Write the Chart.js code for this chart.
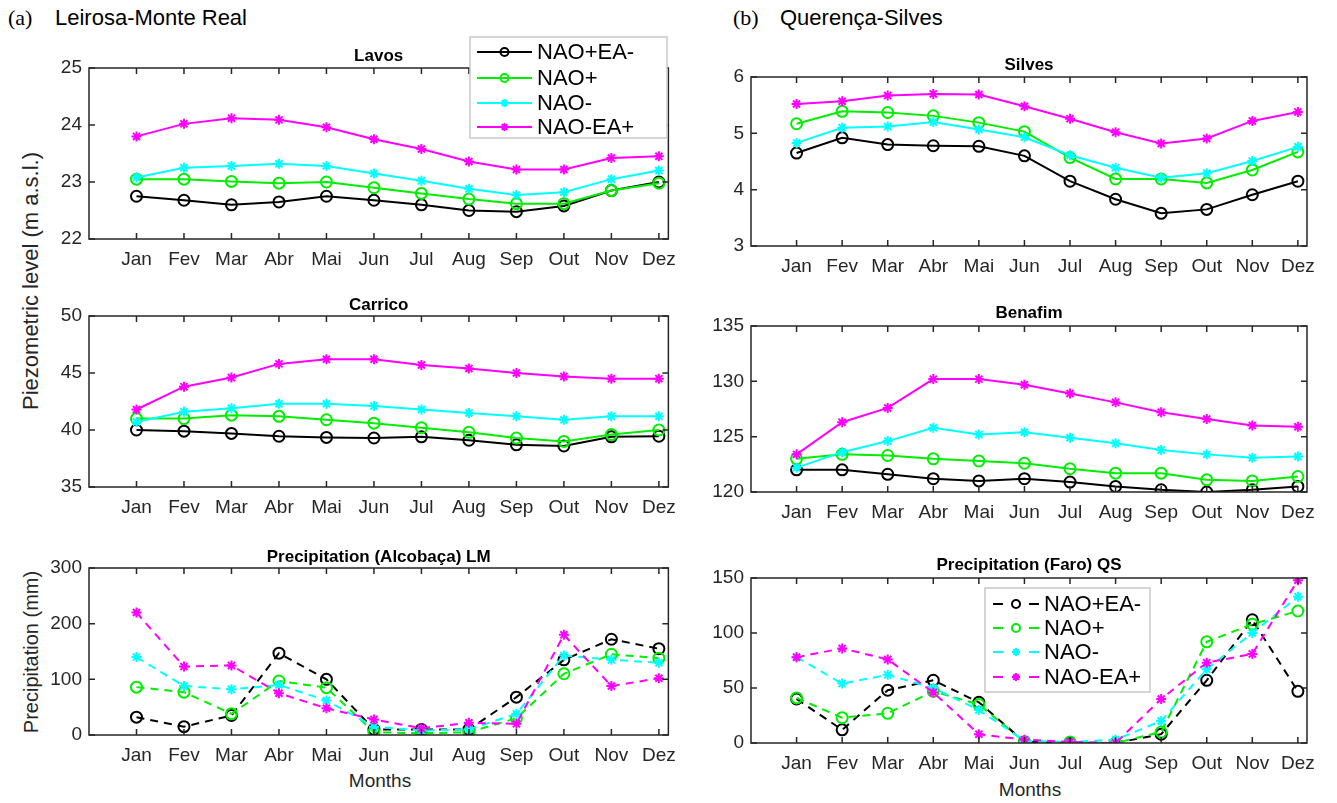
<!DOCTYPE html>
<html>
<head>
<meta charset="utf-8">
<script src="https://cdn.jsdelivr.net/npm/chart.js@4.4.1/dist/chart.umd.min.js"></script>
<style>
  body { margin: 0; background: #fff; width: 1337px; height: 803px; position: relative; overflow: hidden;
         font-family: "Liberation Sans", Arial, sans-serif; color: #262626; }
  .panel { position: absolute; }
  .lbl { position: absolute; white-space: nowrap; }
  .ser { font-family: "Liberation Serif", "Times New Roman", serif; }
  .rot { transform: translate(-50%, -50%) rotate(-90deg); }
  .ctr { transform: translate(-50%, -50%); }
</style>
</head>
<body>

<div class="lbl ser" style="left:8px;top:5px;font-size:22px;color:#000">(a)</div>
<div class="lbl" style="left:55px;top:5px;font-size:22px;color:#000">Leirosa-Monte Real</div>
<div class="lbl ser" style="left:733px;top:5px;font-size:22px;color:#000">(b)</div>
<div class="lbl" style="left:780px;top:5px;font-size:22px;color:#000">Querença-Silves</div>

<div class="lbl rot" style="left:31px;top:281px;font-size:22px">Piezometric level (m a.s.l.)</div>
<div class="lbl rot" style="left:31px;top:652px;font-size:20px">Precipitation (mm)</div>
<div class="lbl ctr" style="left:380px;top:781px;font-size:19px">Months</div>
<div class="lbl ctr" style="left:1030px;top:790px;font-size:19px">Months</div>

<div class="panel" id="wrap-lavos"><canvas id="lavos"></canvas></div>
<div class="panel" id="wrap-carrico"><canvas id="carrico"></canvas></div>
<div class="panel" id="wrap-precLM"><canvas id="precLM"></canvas></div>
<div class="panel" id="wrap-silves"><canvas id="silves"></canvas></div>
<div class="panel" id="wrap-benafim"><canvas id="benafim"></canvas></div>
<div class="panel" id="wrap-precQS"><canvas id="precQS"></canvas></div>

<script>
const months = ["Jan", "Fev", "Mar", "Abr", "Mai", "Jun", "Jul", "Aug", "Sep", "Out", "Nov", "Dez"];
const seriesNames = ["NAO+EA-", "NAO+", "NAO-", "NAO-EA+"];
const seriesColors = ["#000000", "#00ee00", "#00ffff", "#ff00ff"];
const seriesMarkers = ["circle", "circle", "star", "star"];

// Lavos (m a.s.l.)
const lavosNaoPosEaNeg = [22.75, 22.68, 22.60, 22.65, 22.75, 22.68, 22.60, 22.50, 22.48, 22.58, 22.85, 23.00];
const lavosNaoPos      = [23.05, 23.05, 23.01, 22.98, 23.00, 22.90, 22.80, 22.70, 22.62, 22.62, 22.85, 22.98];
const lavosNaoNeg      = [23.08, 23.25, 23.28, 23.32, 23.28, 23.15, 23.02, 22.88, 22.77, 22.82, 23.05, 23.20];
const lavosNaoNegEaPos = [23.80, 24.02, 24.12, 24.09, 23.96, 23.75, 23.58, 23.36, 23.22, 23.22, 23.42, 23.45];
const lavosTicks = [22, 23, 24, 25];

// Carrico (m a.s.l.)
const carricoNaoPosEaNeg = [40.0, 39.9, 39.7, 39.45, 39.35, 39.3, 39.4, 39.1, 38.7, 38.6, 39.4, 39.45];
const carricoNaoPos      = [41.0, 41.0, 41.3, 41.2, 40.9, 40.6, 40.2, 39.8, 39.3, 39.0, 39.6, 40.0];
const carricoNaoNeg      = [40.7, 41.6, 41.9, 42.3, 42.3, 42.1, 41.8, 41.5, 41.2, 40.9, 41.2, 41.2];
const carricoNaoNegEaPos = [41.8, 43.8, 44.6, 45.8, 46.2, 46.2, 45.7, 45.4, 45.0, 44.7, 44.5, 44.5];
const carricoTicks = [35, 40, 45, 50];

// Precipitation Alcobaça (mm)
const precLMNaoPosEaNeg = [32, 15, 35, 147, 100, 10, 10, 10, 68, 135, 172, 155];
const precLMNaoPos      = [86, 77, 38, 97, 85, 5, 3, 5, 30, 110, 145, 138];
const precLMNaoNeg      = [140, 88, 82, 90, 62, 15, 8, 10, 38, 143, 135, 130];
const precLMNaoNegEaPos = [220, 123, 125, 75, 48, 28, 12, 22, 20, 180, 88, 102];
const precLMTicks = [0, 100, 200, 300];

// Silves (m a.s.l.)
const silvesNaoPosEaNeg = [4.65, 4.92, 4.80, 4.78, 4.77, 4.60, 4.15, 3.83, 3.58, 3.65, 3.91, 4.15];
const silvesNaoPos      = [5.17, 5.39, 5.37, 5.31, 5.19, 5.03, 4.57, 4.19, 4.19, 4.12, 4.35, 4.67];
const silvesNaoNeg      = [4.83, 5.10, 5.12, 5.20, 5.07, 4.93, 4.61, 4.39, 4.21, 4.29, 4.51, 4.76];
const silvesNaoNegEaPos = [5.52, 5.57, 5.67, 5.70, 5.69, 5.48, 5.26, 5.02, 4.82, 4.91, 5.22, 5.38];
const silvesTicks = [3, 4, 5, 6];

// Benafim (m a.s.l.)
const benafimNaoPosEaNeg = [122.0, 122.0, 121.6, 121.2, 121.0, 121.2, 120.9, 120.5, 120.2, 120.0, 120.2, 120.5];
const benafimNaoPos      = [123.0, 123.4, 123.3, 123.0, 122.8, 122.6, 122.1, 121.7, 121.7, 121.1, 121.0, 121.4];
const benafimNaoNeg      = [122.2, 123.6, 124.6, 125.8, 125.2, 125.4, 124.9, 124.4, 123.8, 123.4, 123.1, 123.2];
const benafimNaoNegEaPos = [123.4, 126.3, 127.6, 130.2, 130.2, 129.7, 128.9, 128.1, 127.2, 126.6, 126.0, 125.9];
const benafimTicks = [120, 125, 130, 135];

// Precipitation Faro (mm)
const precQSNaoPosEaNeg = [40, 12, 48, 57, 37, 1, 0, 0, 8, 57, 112, 47];
const precQSNaoPos      = [41, 23, 27, 47, 35, 1, 1, 0, 10, 92, 108, 120];
const precQSNaoNeg      = [78, 54, 62, 50, 30, 2, 1, 3, 20, 67, 100, 133];
const precQSNaoNegEaPos = [78, 86, 76, 46, 8, 3, 1, 0, 40, 73, 81, 148];
const precQSTicks = [0, 50, 100, 150];

const panels = [
  { id: "lavos", title: "Lavos", titleY: 56, left: 89, right: 671, top: 68, bottom: 239, ticks: lavosTicks,
    series: [lavosNaoPosEaNeg, lavosNaoPos, lavosNaoNeg, lavosNaoNegEaPos], dashed: false,
    legend: { x: 470, y: 37, w: 197, h: 101, rows: [52, 78, 103, 127], x0: 477, x1: 532, tx: 537 } },
  { id: "carrico", title: "Carrico", titleY: 305, left: 89, right: 671, top: 316, bottom: 487, ticks: carricoTicks,
    series: [carricoNaoPosEaNeg, carricoNaoPos, carricoNaoNeg, carricoNaoNegEaPos], dashed: false },
  { id: "precLM", title: "Precipitation (Alcobaça) LM", titleY: 557, left: 89, right: 671, top: 568, bottom: 735, ticks: precLMTicks,
    series: [precLMNaoPosEaNeg, precLMNaoPos, precLMNaoNeg, precLMNaoNegEaPos], dashed: true },
  { id: "silves", title: "Silves", titleY: 65, left: 751, right: 1310, top: 77, bottom: 246, ticks: silvesTicks,
    series: [silvesNaoPosEaNeg, silvesNaoPos, silvesNaoNeg, silvesNaoNegEaPos], dashed: false },
  { id: "benafim", title: "Benafim", titleY: 313, left: 751, right: 1310, top: 326, bottom: 492, ticks: benafimTicks,
    series: [benafimNaoPosEaNeg, benafimNaoPos, benafimNaoNeg, benafimNaoNegEaPos], dashed: false },
  { id: "precQS", title: "Precipitation (Faro) QS", titleY: 565, left: 751, right: 1310, top: 578, bottom: 743, ticks: precQSTicks,
    series: [precQSNaoPosEaNeg, precQSNaoPos, precQSNaoNeg, precQSNaoNegEaPos], dashed: true,
    legend: { x: 985, y: 588, w: 165, h: 104, rows: [604, 628, 652, 677], x0: 993, x1: 1039, tx: 1044 } }
];

const Y_AXIS_W = 62, X_AXIS_H = 40, PAD_R = 14;
const axisColor = "#262626";
const tickFont = { family: "'Liberation Sans', Arial, sans-serif", size: 19 };

// MATLAB-like box with inward ticks, the panel title and the legend
const matlabPlugin = {
  id: "matlabBox",
  afterDraw(chart, args, opts) {
    const { ctx, chartArea: a, scales } = chart;
    const p = opts.panel;
    ctx.save();
    ctx.strokeStyle = axisColor;
    ctx.lineWidth = 1.5;
    ctx.strokeRect(a.left, a.top, a.right - a.left, a.bottom - a.top);
    ctx.beginPath();
    scales.x.ticks.forEach(t => {
      const px = scales.x.getPixelForValue(t.value);
      ctx.moveTo(px, a.bottom); ctx.lineTo(px, a.bottom - 6);
      ctx.moveTo(px, a.top); ctx.lineTo(px, a.top + 6);
    });
    scales.y.ticks.forEach(t => {
      const py = scales.y.getPixelForValue(t.value);
      ctx.moveTo(a.left, py); ctx.lineTo(a.left + 6, py);
      ctx.moveTo(a.right, py); ctx.lineTo(a.right - 6, py);
    });
    ctx.stroke();

    // title
    ctx.fillStyle = "#000";
    ctx.font = "bold 17px 'Liberation Sans', Arial, sans-serif";
    ctx.textAlign = "center";
    ctx.textBaseline = "middle";
    ctx.fillText(p.title, (a.left + a.right) / 2, p.titleY - opts.oy);

    // legend
    const lg = p.legend;
    if (lg) {
      const ox = opts.ox, oy = opts.oy;
      ctx.fillStyle = "#fff";
      ctx.fillRect(lg.x - ox, lg.y - oy, lg.w, lg.h);
      ctx.strokeStyle = "#c8c8c8";
      ctx.lineWidth = 1.5;
      ctx.strokeRect(lg.x - ox, lg.y - oy, lg.w, lg.h);
      chart.data.datasets.forEach((ds, k) => {
        const y = lg.rows[k] - oy;
        const x0 = lg.x0 - ox, x1 = lg.x1 - ox, xm = (x0 + x1) / 2;
        ctx.strokeStyle = ds.borderColor;
        ctx.lineWidth = 2;
        ctx.beginPath();
        if (p.dashed) {
          ctx.moveTo(x0, y); ctx.lineTo(x0 + 10, y);
          ctx.moveTo(x1 - 10, y); ctx.lineTo(x1, y);
        } else {
          ctx.moveTo(x0, y); ctx.lineTo(x1, y);
        }
        ctx.stroke();
        ctx.fillStyle = "rgba(0,0,0,0)";
        Chart.helpers.drawPoint(ctx, {
          pointStyle: ds.pointStyle, rotation: 0, radius: 4,
          borderWidth: 2
        }, xm, y);
        ctx.fillStyle = "#000";
        ctx.font = "22px 'Liberation Sans', Arial, sans-serif";
        ctx.textAlign = "left";
        ctx.textBaseline = "middle";
        ctx.fillText(ds.label, lg.tx - ox, y + 1);
      });
    }
    ctx.restore();
  }
};

function buildDatasets(series, dashed) {
  return series.map((values, k) => ({
    label: seriesNames[k],
    data: values.map((v, i) => ({ x: i + 1, y: v })),
    borderColor: seriesColors[k],
    backgroundColor: "rgba(0,0,0,0)",
    borderWidth: 2,
    borderDash: dashed ? [8, 6] : [],
    pointStyle: seriesMarkers[k],
    pointRadius: seriesMarkers[k] === "circle" ? 5.5 : 5,
    pointBorderWidth: 2,
    pointBorderColor: seriesColors[k],
    pointBackgroundColor: "rgba(0,0,0,0)",
    order: 3 - k,
    tension: 0
  }));
}

panels.forEach(p => {
  const topEdge = Math.min(p.titleY - 16, p.legend ? p.legend.y - 4 : 9999);
  const ox = p.left - Y_AXIS_W, oy = topEdge;
  const wrap = document.getElementById("wrap-" + p.id);
  wrap.style.left = ox + "px";
  wrap.style.top = oy + "px";
  wrap.style.width = (p.right + PAD_R - ox) + "px";
  wrap.style.height = (p.bottom + X_AXIS_H - oy) + "px";

  new Chart(document.getElementById(p.id), {
    type: "line",
    data: { datasets: buildDatasets(p.series, p.dashed) },
    options: {
      responsive: true,
      maintainAspectRatio: false,
      animation: false,
      layout: { padding: { top: p.top - oy, right: PAD_R, left: 0, bottom: 0 } },
      plugins: {
        legend: { display: false },
        tooltip: { enabled: false },
        matlabBox: { panel: p, ox: ox, oy: oy }
      },
      scales: {
        x: {
          type: "linear", min: 0, max: 12.2,
          afterBuildTicks: s => { s.ticks = months.map((m, i) => ({ value: i + 1 })); },
          afterFit: s => { s.height = X_AXIS_H; },
          grid: { display: false, drawTicks: false },
          border: { display: false },
          ticks: { autoSkip: false, maxRotation: 0, padding: 9, color: axisColor, font: tickFont,
                   callback: v => months[v - 1] }
        },
        y: {
          min: p.ticks[0], max: p.ticks[p.ticks.length - 1],
          afterBuildTicks: s => { s.ticks = p.ticks.map(v => ({ value: v })); },
          afterFit: s => { s.width = Y_AXIS_W; },
          grid: { display: false, drawTicks: false },
          border: { display: false },
          ticks: { padding: 7, color: axisColor, font: tickFont }
        }
      }
    },
    plugins: [matlabPlugin]
  });
});
</script>
</body>
</html>
